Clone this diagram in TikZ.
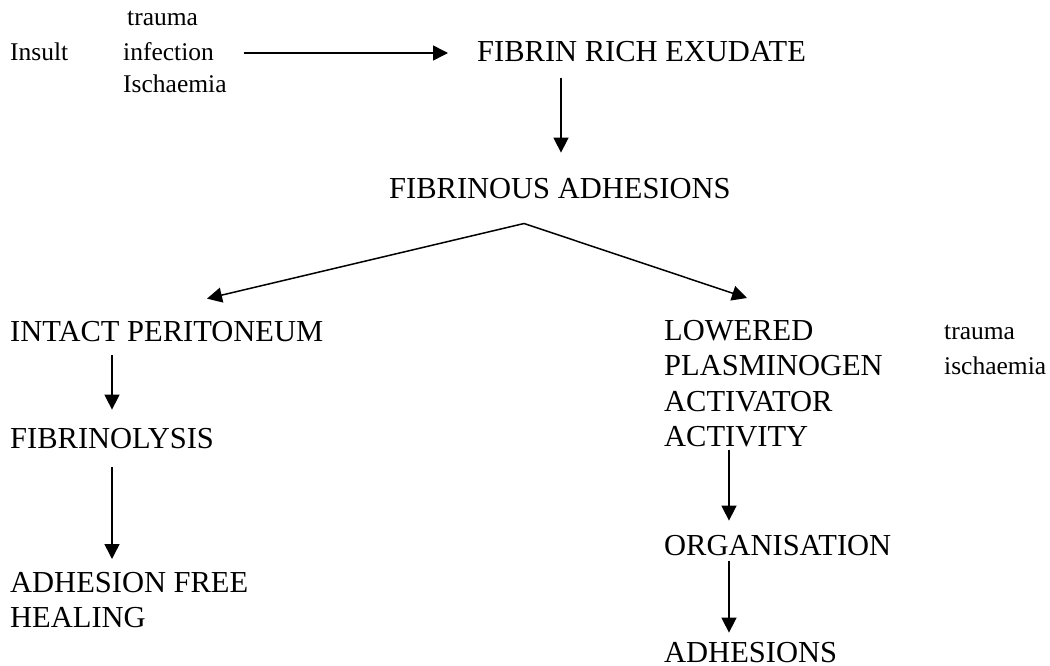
\documentclass[tikz,border=0pt]{standalone}
\usepackage{fontspec}
\setmainfont{Liberation Serif}
\usetikzlibrary{arrows.meta,positioning,calc}

\begin{document}
\begin{tikzpicture}[
    x=1pt, y=-1pt,
    stage/.style={
        inner sep=0pt,
        anchor=base west,
        align=left,
        font=\fontsize{30.5}{35.3}\selectfont
    },
    cause/.style={
        inner sep=0pt,
        anchor=base west,
        font=\fontsize{25.5}{35}\selectfont
    },
    arrow/.style={-{Triangle[length=15pt, width=15pt]}, line width=1.5pt, black}
]
\useasboundingbox (0,0) rectangle (1050,665);

% Insult and its causes
\node[cause] (insult) at (10,60) {Insult};
\node[cause] (trauma) at (127,25) {trauma};
\node[cause] (infection) at (123,60) {infection};
\node[cause] (ischaemia) at (123,92) {Ischaemia};

% Main chain
\node[stage] (fibrin) at (477,61) {FIBRIN RICH EXUDATE};
\node[stage] (fibadh) at (389,198) {FIBRINOUS ADHESIONS};

% Left branch
\node[stage] (intact) at (10,341) {INTACT PERITONEUM};
\node[stage] (lysis) at (10,448) {FIBRINOLYSIS};
\node[stage, anchor=north west] (healing) at (10,572) {ADHESION FREE\\HEALING};

% Right branch
\node[stage, anchor=north west] (lowered) at (664,320) {LOWERED\\PLASMINOGEN\\ACTIVATOR\\ACTIVITY};
\node[cause, anchor=north west, align=left, font=\fontsize{25.5}{35}\selectfont] (factors) at (944,325) {trauma\\ischaemia};
\node[stage] (organ) at (664,555) {ORGANISATION};
\node[stage] (adh) at (664,662) {ADHESIONS};

% Arrows
\draw[arrow] ([xshift=29.5pt,yshift=7pt]infection.base east) -- ([xshift=-29pt,yshift=8pt]fibrin.base west);
\draw[arrow] ([xshift=84pt,yshift=-16pt]fibrin.south west) -- ([xshift=172pt,yshift=25pt]fibadh.north west);
\coordinate (split) at ([xshift=135pt,yshift=-25pt]fibadh.south west);
\draw[arrow] (split) -- ([xshift=197pt,yshift=22pt]intact.north west);
\draw[arrow] (split) -- ([xshift=83pt,yshift=22pt]lowered.north west);
\draw[arrow] ([xshift=102pt,yshift=-13pt]intact.south west) -- ([xshift=102pt,yshift=18pt]lysis.north west);
\draw[arrow] ([xshift=102pt,yshift=-18pt]lysis.south west) -- ([xshift=102pt,yshift=13pt]healing.north west);
\draw[arrow] ([xshift=65pt,yshift=-3pt]lowered.south west) -- ([xshift=65pt,yshift=14pt]organ.north west);
\draw[arrow] ([xshift=65pt,yshift=-5pt]organ.south west) -- ([xshift=65pt,yshift=9pt]adh.north west);

\end{tikzpicture}
\end{document}
